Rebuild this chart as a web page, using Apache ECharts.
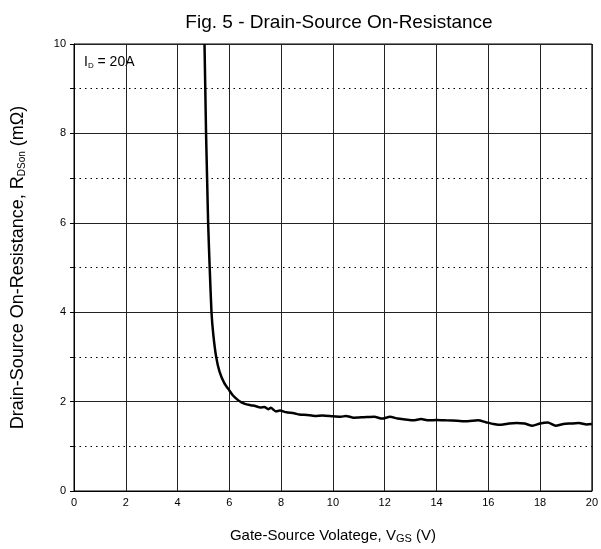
<!DOCTYPE html>
<html><head><meta charset="utf-8">
<script src="https://cdn.jsdelivr.net/npm/echarts@6/dist/echarts.min.js"></script>
<style>html,body{margin:0;padding:0;background:#fff}#c{width:601px;height:549px}</style>
</head><body><div id="c"></div>
<script>
var vgs = [5.04,5.07,5.10,5.14,5.18,5.24,5.31,5.38,5.49,5.62,5.80,6.00,6.15,6.30,6.45,6.60,6.83,7.00,7.20,7.35,7.50,7.60,7.80,7.95,8.20,8.50,8.70,9.00,9.30,9.60,10.0,10.3,10.5,10.8,11.2,11.6,11.9,12.2,12.5,12.8,13.1,13.4,13.7,14.0,14.4,14.8,15.2,15.6,15.9,16.2,16.5,16.8,17.1,17.4,17.7,18.0,18.3,18.6,18.9,19.2,19.5,19.8,20.0];
var rdson = [10,9,8,7,6,5,4,3.5,3.0,2.67,2.42,2.25,2.13,2.05,1.99,1.95,1.92,1.90,1.87,1.88,1.83,1.86,1.78,1.80,1.76,1.74,1.71,1.70,1.68,1.69,1.67,1.66,1.68,1.64,1.65,1.66,1.62,1.66,1.62,1.60,1.58,1.61,1.58,1.59,1.58,1.57,1.56,1.58,1.54,1.50,1.48,1.51,1.52,1.51,1.46,1.51,1.53,1.46,1.50,1.51,1.52,1.49,1.50];
var xTicks = [0,2,4,6,8,10,12,14,16,18,20];
var yTicks = [0,2,4,6,8,10];
var titleText = 'Fig. 5 - Drain-Source On-Resistance';

var font = 'Liberation Sans, Arial, sans-serif';
var chart = echarts.init(document.getElementById('c'));
chart.setOption({
  animation: false,
  backgroundColor: '#fff',
  title: {text: titleText, left: 334, textAlign: 'center', top: 8,
    textStyle: {fontFamily: font, fontSize: 19, fontWeight: 'normal', color: '#000'}},
  grid: {left: 74, right: 8, top: 44, bottom: 55, show: true, borderColor: '#000', borderWidth: 1},
  xAxis: {
    type: 'value', min: 0, max: 20, interval: 2,
    name: '{a|Gate-Source Volatege, V}{s|GS}{a| (V)}',
    nameLocation: 'middle', nameGap: 37,
    nameTextStyle: {rich: {
      a: {fontFamily: font, fontSize: 15, color: '#000'},
      s: {fontFamily: font, fontSize: 11, color: '#000', verticalAlign: 'bottom', padding: [5,0,0,0]}
    }},
    axisLine: {show: true, lineStyle: {color: '#000', width: 1}},
    axisTick: {show: false},
    axisLabel: {fontFamily: font, fontSize: 11, color: '#000', margin: 6,
      formatter: function(v){ return xTicks.indexOf(v) >= 0 ? String(v) : ''; }},
    splitLine: {show: true, lineStyle: {color: '#222', width: 1}}
  },
  yAxis: {
    type: 'value', min: 0, max: 10, interval: 2,
    name: '{a|Drain-Source On-Resistance, R}{s|DSon}{a| (mΩ)}',
    nameLocation: 'middle', nameGap: 47, nameRotate: 90,
    nameTextStyle: {rich: {
      a: {fontFamily: font, fontSize: 18, color: '#000'},
      s: {fontFamily: font, fontSize: 10, color: '#000', verticalAlign: 'bottom', padding: [7,0,0,0]}
    }},
    axisLine: {show: true, lineStyle: {color: '#000', width: 1}},
    axisTick: {show: true, length: 4, inside: false, lineStyle: {color: '#000'}},
    minorTick: {show: true, splitNumber: 2, length: 4, lineStyle: {color: '#000'}},
    axisLabel: {fontFamily: font, fontSize: 11, color: '#000', margin: 8,
      formatter: function(v){ return yTicks.indexOf(v) >= 0 ? String(v) : ''; }},
    splitLine: {show: true, lineStyle: {color: '#222', width: 1}},
    minorSplitLine: {show: true, lineStyle: {color: '#000', width: 1, type: [1.5, 4]}}
  },
  graphic: [{
    type: 'text', left: 84, top: 55,
    style: {
      text: '{a|I}{s|D}{a| = 20A}',
      rich: {
        a: {fontFamily: font, fontSize: 14, fill: '#000'},
        s: {fontFamily: font, fontSize: 8, fill: '#000', verticalAlign: 'bottom', padding: [7,0,0,0]}
      }
    }
  }],
  series: [{
    type: 'line', showSymbol: false, smooth: 0.2,
    data: vgs.map(function(x, i){ return [x, rdson[i]]; }),
    lineStyle: {color: '#000', width: 2.5}
  }]
});
</script></body></html>
